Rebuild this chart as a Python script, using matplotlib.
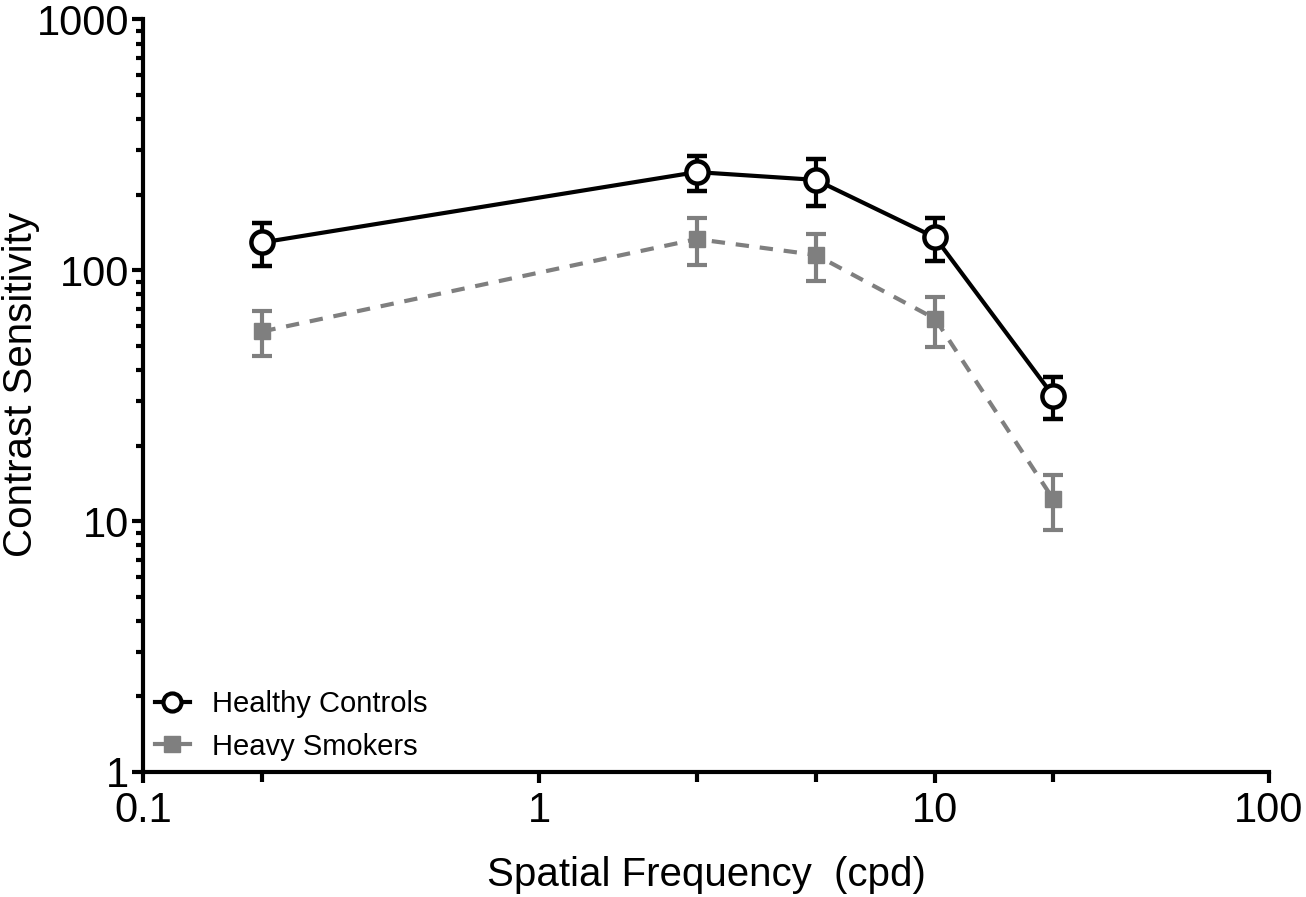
import numpy as np
import matplotlib
matplotlib.use("Agg")
import matplotlib.pyplot as plt
from matplotlib.ticker import FixedLocator, NullFormatter, FixedFormatter
from matplotlib.lines import Line2D

# ---- data ----
freq = [0.2, 2.5, 5, 10, 22.6]
healthy = [129, 246, 229, 135, 31.5]
healthy_err = [25, 40, 48, 26, 6]
smokers = [57, 133, 115, 64, 12.2]
smokers_err = [11.5, 28, 24.5, 14.5, 3]
series_labels = ["Healthy Controls", "Heavy Smokers"]
x_major = [0.1, 1, 10, 100]
x_major_labels = ["0.1", "1", "10", "100"]
y_major = [1, 10, 100, 1000]
y_major_labels = ["1", "10", "100", "1000"]

plt.rcParams['font.family'] = ['Liberation Sans', 'DejaVu Sans']

# piecewise-log x scale (last decade compressed as in the reference)
K = 0.8434

def fwd(x):
    x = np.asarray(x, dtype=float)
    l = np.log10(np.clip(x, 1e-6, None))
    return np.where(l <= 1, l, 1 + (l - 1) * K)

def inv(t):
    t = np.asarray(t, dtype=float)
    l = np.where(t <= 1, t, 1 + (t - 1) / K)
    return 10 ** l

fig = plt.figure(figsize=(13.06, 8.97), dpi=100)
ax = fig.add_axes([0.1097, 0.1394, 0.9717 - 0.1097, 0.9785 - 0.1394])
ax.set_xscale('function', functions=(fwd, inv))
ax.set_yscale('log')
ax.set_xlim(0.1, 100)
ax.set_ylim(1, 1000)

gray = '#7f7f7f'
dash = (0, (3.2, 2.6))
ax.errorbar(freq, smokers, yerr=smokers_err, color=gray, lw=3, ls=dash,
            marker='s', ms=11, mfc=gray, mec=gray, ecolor=gray, elinewidth=3,
            capsize=7, capthick=3, zorder=2)
ax.errorbar(freq, healthy, yerr=healthy_err, color='black', lw=3, ls='-',
            marker='o', ms=16, mfc='white', mec='black', mew=3.2, ecolor='black',
            elinewidth=3, capsize=7.5, capthick=3.2, zorder=3)

for s in ['top', 'right']:
    ax.spines[s].set_visible(False)
for s in ['left', 'bottom']:
    ax.spines[s].set_linewidth(3)

# x ticks
ax.xaxis.set_major_locator(FixedLocator(x_major))
ax.xaxis.set_major_formatter(FixedFormatter(x_major_labels))
ax.xaxis.set_minor_locator(FixedLocator([f for f in freq if f not in x_major]))
ax.xaxis.set_minor_formatter(NullFormatter())
ax.tick_params(axis='x', which='major', length=8, width=3, labelsize=30, pad=6)
ax.tick_params(axis='x', which='minor', length=7, width=3)

# y ticks
ax.yaxis.set_major_locator(FixedLocator(y_major))
ax.yaxis.set_major_formatter(FixedFormatter(y_major_labels))
ax.yaxis.set_minor_locator(FixedLocator([m * 10 ** d for d in range(0, 3) for m in range(2, 10)]))
ax.yaxis.set_minor_formatter(NullFormatter())
ax.tick_params(axis='y', which='major', length=8, width=3, labelsize=30, pad=2)
ax.tick_params(axis='y', which='minor', length=5, width=3)

ax.set_xlabel('Spatial Frequency  (cpd)', fontsize=29, labelpad=18)
ax.set_ylabel('Contrast Sensitivity', fontsize=29)
ax.yaxis.set_label_coords(-0.092, 0.515)

handles = [
    Line2D([], [], color='black', lw=3, marker='o', ms=13, mfc='white', mec='black', mew=3),
    Line2D([], [], color=gray, lw=3, marker='s', ms=11, mfc=gray, mec=gray),
]
leg = ax.legend(handles, series_labels, loc='lower left', bbox_to_anchor=(-0.008, -0.012),
                frameon=False, fontsize=21, handlelength=1.2, handletextpad=0.75,
                labelspacing=0.5, borderaxespad=0.3)

fig.savefig('out.png', dpi=100)
